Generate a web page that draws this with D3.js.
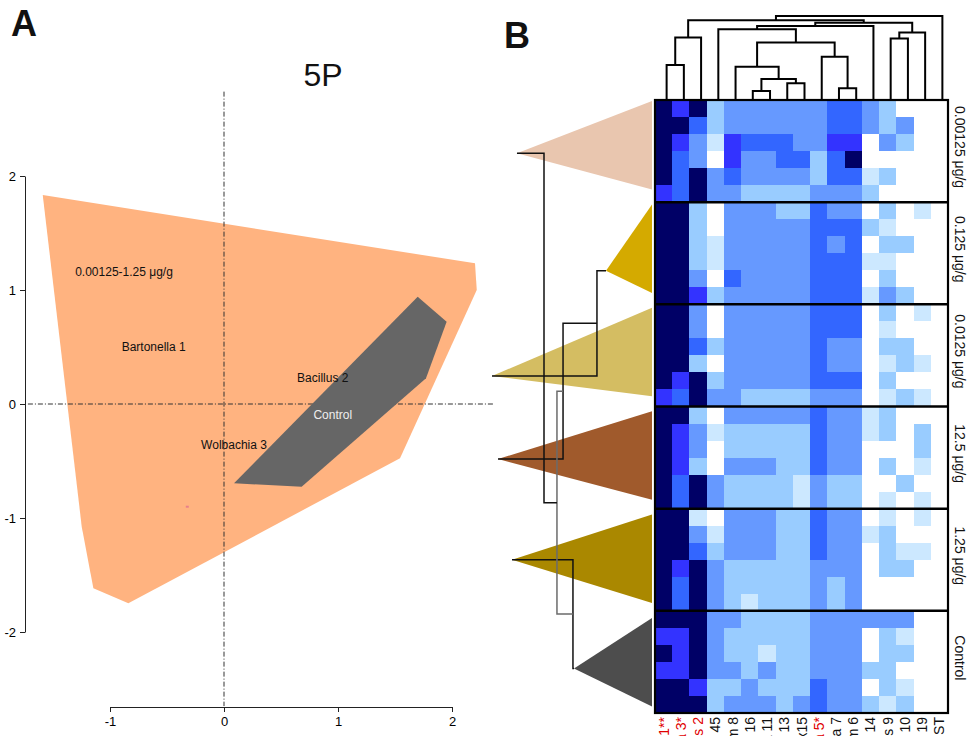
<!DOCTYPE html>
<html>
<head>
<meta charset="utf-8">
<script src="https://cdn.jsdelivr.net/npm/d3@7"></script>
<style>
  body { margin: 0; background: #fff; }
  svg { display: block; }
</style>
</head>
<body>
<svg id="fig" width="971" height="736"></svg>
<script>
// ---------------- Panel A: ordination hulls (axis units) ----------------
const xTicks = [-1, 0, 1, 2];
const yTicks = [-2, -1, 0, 1, 2];
const doseHullX = [-1.590, 2.202, 2.217, 1.544, -0.839, -1.146, -1.248];
const doseHullY = [1.833, 1.234, 1.000, -0.476, -1.748, -1.617, -1.076];
const controlHullX = [1.699, 1.953, 1.772, 0.681, 0.088];
const controlHullY = [0.941, 0.722, 0.225, -0.725, -0.696];
const ordLabels = ["0.00125-1.25 μg/g", "Bartonella 1", "Bacillus 2", "Control", "Wolbachia 3"];
const ordLabelX = [-0.877, -0.617, 0.866, 0.954, 0.088];
const ordLabelY = [1.161, 0.503, 0.225, -0.096, -0.360];
const ordLabelColor = ["#111", "#111", "#111", "#eeeeee", "#111"];
const strayPointX = [-0.322];
const strayPointY = [-0.901];
const refExtentX = [-1.72, 2.36];
const refExtentY = [-2.65, 2.74];

// ---------------- Panel B: heatmap ----------------
const taxa = ["1**", "a 3*", "s 2", "45", "m 8", "16", "a 11", "13",
              "x15", "a 5*", "a 7", "m 6", "14", "s 9", "10", "19", "ST"];
const taxaFlagged = [true, true, true, false, false, false, false, false,
                     false, true, false, false, false, false, false, false, false];
const doseGroups = ["0.00125 μg/g", "0.125 μg/g", "0.0125 μg/g", "12.5 μg/g", "1.25 μg/g", "Control"];
const groupColors = ["#e9c6af", "#d4aa00", "#d4bd62", "#a05a2c", "#aa8800", "#4d4d4d"];

// abundance level per sample (0 = absent ... 6 = highest)
const dose00125 = [
  [6,5,6,2,3,3,3,3,3,3,4,4,3,2,0,0,0],
  [6,6,4,2,3,3,3,3,3,3,4,4,3,2,3,0,0],
  [6,5,3,1,5,4,4,4,3,3,5,5,0,3,2,0,0],
  [6,4,3,0,5,3,3,4,4,2,4,6,0,0,0,0,0],
  [6,4,6,3,4,3,3,3,3,2,4,4,1,2,0,0,0],
  [5,4,6,3,3,2,2,2,2,3,3,3,2,0,0,0,0]
];
const dose0125 = [
  [6,6,2,0,3,3,3,2,2,4,3,3,0,2,0,1,0],
  [6,6,2,0,3,3,3,3,3,4,4,4,2,1,0,0,0],
  [6,6,2,1,3,3,3,3,3,4,3,4,0,2,2,0,0],
  [6,6,2,1,3,3,3,3,3,4,4,4,1,1,0,0,0],
  [6,6,3,0,4,3,3,3,3,4,4,4,0,2,0,0,0],
  [6,6,5,2,3,3,3,3,3,4,4,4,1,3,2,0,0]
];
const dose0p0125 = [
  [6,6,3,0,3,3,3,3,3,4,4,4,0,2,0,1,0],
  [6,6,3,0,3,3,3,3,3,4,4,4,0,1,0,0,0],
  [6,6,4,2,3,3,3,3,3,4,3,3,0,2,2,0,0],
  [6,6,2,0,3,3,3,3,3,4,3,3,0,1,2,1,0],
  [6,5,6,2,3,3,3,3,3,4,4,4,0,2,0,0,0],
  [5,4,6,3,3,2,2,2,2,3,3,3,0,1,2,1,0]
];
const dose12p5 = [
  [6,6,2,0,3,3,3,3,3,4,3,3,1,2,0,0,0],
  [6,5,3,1,2,2,2,2,2,4,3,3,1,2,0,2,0],
  [6,5,3,0,2,2,2,2,2,4,3,3,0,0,0,2,0],
  [6,5,2,0,3,3,3,2,2,4,3,3,0,2,0,1,0],
  [6,4,6,3,2,2,2,2,1,3,2,2,0,0,2,0,0],
  [6,4,6,3,2,2,2,2,1,3,2,2,0,1,0,1,0]
];
const dose1p25 = [
  [6,6,1,0,3,3,3,2,2,4,3,3,0,1,0,1,0],
  [6,6,3,1,3,3,3,2,2,4,3,3,1,2,0,0,0],
  [6,6,4,2,3,3,3,2,2,4,3,3,0,2,1,1,0],
  [6,5,6,3,2,2,2,2,2,3,3,3,0,2,2,0,0],
  [6,4,6,3,2,2,2,2,2,3,2,3,0,0,0,0,0],
  [6,4,6,3,2,1,2,2,2,3,2,3,0,0,0,0,0]
];
const controlRows = [
  [6,6,6,3,3,2,2,2,2,3,3,3,3,3,3,0,0],
  [5,5,6,3,2,2,2,2,2,3,3,3,0,2,1,0,0],
  [6,5,6,3,2,2,1,2,2,3,3,3,0,2,2,0,0],
  [5,5,6,3,3,2,3,2,2,3,3,3,2,2,0,0,0],
  [6,6,5,2,2,3,2,2,2,4,3,3,0,2,1,0,0],
  [6,6,6,2,3,3,3,2,3,4,3,3,2,1,2,0,0]
];
const levelColors = ["#ffffff", "#cce8ff", "#99ccff", "#6699ff", "#3366ff", "#3333ff", "#000066"];

// column clustering (R-style merge: negative = leaf, positive = earlier merge)
const colMerge = [
  [-1, -2], [1, -3], [-6, -7], [-8, -9], [3, 4], [-5, 5], [-11, -12], [-10, 7],
  [6, 8], [-4, 9], [10, -13], [-14, -15], [12, -16], [11, 13], [2, 14], [15, -17]
];
const colHeight = [0.41, 0.74, 0.096, 0.19, 0.24, 0.39, 0.13, 0.51,
                   0.68, 0.84, 0.88, 0.73, 0.80, 0.92, 0.95, 1.0];

// dose-group clustering drawn beside the heatmap
const groupMerge = [[-2, -3], [1, -4], [-5, -6], [2, 3], [-1, 4]];
const groupHeight = [0.344, 0.556, 0.494, 0.594, 0.675];
const groupTip = [0.844, 0.2875, 1.0, 0.9625, 0.875, 0.4875];
const groupApexFrac = [0.59, 0.75, 0.77, 0.54, 0.51, 0.57];

// ---------------------------------------------------------------------
const FONT = "'Liberation Sans', Arial, sans-serif";
const svg = d3.select("#fig").style("font-family", FONT);

// ======================= Panel A =======================
const xA = d3.scaleLinear().domain([-1, 2]).range([110, 452]);
const yA = d3.scaleLinear().domain([-2, 2]).range([632, 176]);
const hullLine = d3.line().x(d => xA(d[0])).y(d => yA(d[1]));

const gA = svg.append("g");
gA.append("path")
  .attr("d", hullLine(d3.zip(doseHullX, doseHullY)) + "Z")
  .attr("fill", "#ffb380");

// reference lines through the origin
gA.append("line")
  .attr("x1", xA(0)).attr("x2", xA(0))
  .attr("y1", yA(refExtentY[1])).attr("y2", yA(refExtentY[0]))
  .attr("stroke", "#333").attr("stroke-width", 1).attr("stroke-dasharray", "5,2,1,2");
gA.append("line")
  .attr("x1", xA(refExtentX[0])).attr("x2", xA(refExtentX[1]))
  .attr("y1", yA(0)).attr("y2", yA(0))
  .attr("stroke", "#333").attr("stroke-width", 1).attr("stroke-dasharray", "5,2,1,2");

gA.append("path")
  .attr("d", hullLine(d3.zip(controlHullX, controlHullY)) + "Z")
  .attr("fill", "#666666");

gA.selectAll("rect.stray").data(d3.zip(strayPointX, strayPointY)).join("rect")
  .attr("class", "stray")
  .attr("x", d => xA(d[0]) - 1.5).attr("y", d => yA(d[1]) - 1)
  .attr("width", 3).attr("height", 2).attr("fill", "#e8808a");

gA.selectAll("text.ordlab").data(ordLabels).join("text")
  .attr("class", "ordlab")
  .attr("x", (d, i) => xA(ordLabelX[i]))
  .attr("y", (d, i) => yA(ordLabelY[i]))
  .attr("text-anchor", "middle").attr("dominant-baseline", "central")
  .attr("font-size", 12).attr("fill", (d, i) => ordLabelColor[i])
  .text(d => d);

const plainNum = d => String(d);
const axB = gA.append("g").attr("transform", `translate(0,707)`)
  .call(d3.axisBottom(xA).tickValues(xTicks).tickFormat(plainNum)
    .tickSize(5).tickSizeOuter(0).tickPadding(5));
const axL = gA.append("g").attr("transform", `translate(25,0)`)
  .call(d3.axisLeft(yA).tickValues(yTicks).tickFormat(plainNum)
    .tickSize(5).tickSizeOuter(0).tickPadding(4));
[axB, axL].forEach(ax => {
  ax.selectAll("path, line").attr("stroke", "#222");
  ax.selectAll("text").attr("font-size", 13).attr("fill", "#000").attr("font-family", FONT);
});

svg.append("text").attr("x", 323).attr("y", 86).attr("text-anchor", "middle")
  .attr("font-size", 32).attr("fill", "#111").text("5P");
svg.append("text").attr("x", 11).attr("y", 36)
  .attr("font-size", 36).attr("font-weight", "bold").attr("fill", "#111").text("A");
svg.append("text").attr("x", 504).attr("y", 48)
  .attr("font-size", 36).attr("font-weight", "bold").attr("fill", "#111").text("B");

// ======================= Panel B =======================
const rows = [].concat(dose00125, dose0125, dose0p0125, dose12p5, dose1p25, controlRows);

const xB = d3.scaleBand().domain(d3.range(taxa.length)).range([655, 948]);
const yB = d3.scaleBand().domain(d3.range(rows.length)).range([100, 713]);
const fillOf = d3.scaleOrdinal().domain(d3.range(levelColors.length)).range(levelColors);

// side triangles and dose-group tree
const triTop = d3.scaleLinear().domain([0, 6]).range([101, 721.4]);
const triDepth = 88.5;
const xSide = d3.scaleLinear().domain([0, 1]).range([652, 492]);

const sideLeaf = doseGroups.map((g, i) => ({
  x: xSide(groupTip[i]),
  y: triTop(i) + groupApexFrac[i] * triDepth
}));

svg.append("g").selectAll("path").data(doseGroups).join("path")
  .attr("d", (g, i) => {
    const t = triTop(i), b = t + triDepth;
    return `M652,${t}L${sideLeaf[i].x},${sideLeaf[i].y}L652,${b}Z`;
  })
  .attr("fill", (g, i) => groupColors[i]);

const sideNodes = [];
const sideRef = k => k < 0 ? sideLeaf[-k - 1] : sideNodes[k - 1];
const gSide = svg.append("g").attr("fill", "none");
groupMerge.forEach((m, i) => {
  const a = sideRef(m[0]), b = sideRef(m[1]);
  const nx = xSide(groupHeight[i]);
  const node = { x: nx, y: (a.y + b.y) / 2 };
  sideNodes.push(node);
  gSide.append("path")
    .attr("d", `M${a.x},${a.y}H${nx}V${b.y}H${b.x}`)
    .attr("stroke", i === 3 ? "#6b6b6b" : "#111")
    .attr("stroke-width", 1.5);
});

// heatmap cells
const gHeat = svg.append("g").attr("shape-rendering", "crispEdges");
rows.forEach((r, ri) => {
  gHeat.selectAll(null).data(r).join("rect")
    .attr("x", (v, ci) => xB(ci))
    .attr("y", yB(ri))
    .attr("width", xB.bandwidth() + 0.6)
    .attr("height", yB.bandwidth() + 0.6)
    .attr("fill", v => fillOf(v));
});

// group separators and frame
const sepG = svg.append("g").attr("stroke", "#000");
d3.range(1, doseGroups.length).forEach(g => {
  sepG.append("line")
    .attr("x1", 655).attr("x2", 948)
    .attr("y1", yB(g * 6)).attr("y2", yB(g * 6))
    .attr("stroke-width", 2.5);
});
svg.append("rect").attr("x", 655).attr("y", 100)
  .attr("width", 293).attr("height", 613)
  .attr("fill", "none").attr("stroke", "#000").attr("stroke-width", 2.2);

// column tree
const yDen = d3.scaleLinear().domain([0, 1]).range([99, 16]);
const colLeaf = taxa.map((t, i) => ({ x: xB(i) + xB.bandwidth() / 2 + 3, y: yDen(0) }));
const colNodes = [];
const colRef = k => k < 0 ? colLeaf[-k - 1] : colNodes[k - 1];
const gDen = svg.append("g").attr("fill", "none").attr("stroke", "#000").attr("stroke-width", 2);
colMerge.forEach((m, i) => {
  const a = colRef(m[0]), b = colRef(m[1]);
  const ny = yDen(colHeight[i]);
  colNodes.push({ x: (a.x + b.x) / 2, y: ny });
  gDen.append("path").attr("d", `M${a.x},${a.y}V${ny}H${b.x}V${b.y}`);
});

// dose-group labels (right side)
svg.append("g").selectAll("text").data(doseGroups).join("text")
  .attr("transform", (g, i) => `translate(955,${yB(i * 6) + 3 * yB.bandwidth() - 4}) rotate(90)`)
  .attr("text-anchor", "middle")
  .attr("font-size", 14).attr("fill", "#111")
  .text(d => d);

// taxon labels (bottom)
svg.append("g").selectAll("text").data(taxa).join("text")
  .attr("transform", (t, i) => `translate(${xB(i) + xB.bandwidth() / 2 + 5},717) rotate(-90)`)
  .attr("text-anchor", "end")
  .attr("font-size", 14)
  .attr("fill", (t, i) => taxaFlagged[i] ? "#e00000" : "#111")
  .text(d => d);
</script>
</body>
</html>
